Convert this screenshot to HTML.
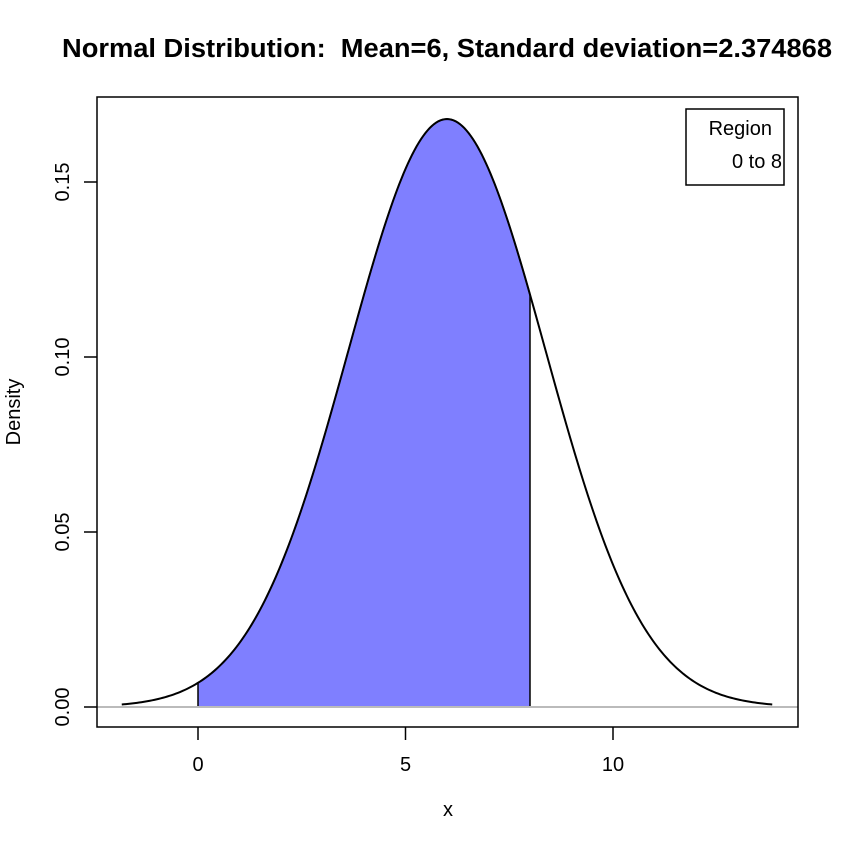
<!DOCTYPE html>
<html><head><meta charset="utf-8"><style>
html,body{margin:0;padding:0;background:#fff;}
svg{display:block;font-family:"Liberation Sans",Arial,sans-serif;}
</style></head><body>
<svg id="s" width="848" height="848" viewBox="0 0 848 848" xmlns="http://www.w3.org/2000/svg">
<rect width="848" height="848" fill="#fff"/>
<text x="447" y="57" text-anchor="middle" font-size="25.5" font-weight="bold" textLength="770" lengthAdjust="spacingAndGlyphs">Normal Distribution:&#160; Mean=6, Standard deviation=2.374868</text>
<path id="fill" fill="#7f7fff" stroke="#000" stroke-width="1.5" d=""/>
<line x1="97" y1="707" x2="798" y2="707" stroke="#bbb" stroke-width="2"/>
<path id="curve" fill="none" stroke="#000" stroke-width="2" d=""/>
<rect x="97" y="97" width="701" height="630" fill="none" stroke="#000" stroke-width="1.5"/>
<g stroke="#000" stroke-width="1.5">
<line x1="198" y1="727" x2="198" y2="740"/>
<line x1="405.5" y1="727" x2="405.5" y2="740"/>
<line x1="613" y1="727" x2="613" y2="740"/>
<line x1="97" y1="707" x2="84" y2="707"/>
<line x1="97" y1="532" x2="84" y2="532"/>
<line x1="97" y1="357" x2="84" y2="357"/>
<line x1="97" y1="182" x2="84" y2="182"/>
</g>
<g font-size="20" text-anchor="middle" fill="#000">
<text x="198" y="771">0</text>
<text x="405.5" y="771">5</text>
<text x="613" y="771">10</text>
<text x="448" y="816">x</text>
<text transform="translate(69,707) rotate(-90)">0.00</text>
<text transform="translate(69,532) rotate(-90)">0.05</text>
<text transform="translate(69,357) rotate(-90)">0.10</text>
<text transform="translate(69,182) rotate(-90)">0.15</text>
<text transform="translate(20,412) rotate(-90)">Density</text>
</g>
<rect x="686" y="109" width="98" height="76" fill="#fff" stroke="#000" stroke-width="1.5"/>
<text x="772" y="135" text-anchor="end" font-size="20">Region</text>
<text x="782" y="168" text-anchor="end" font-size="20">0 to 8</text>
<script>
(function(){
var m=6,s=2.374868;
function X(v){return 198+v*41.5;}
function Y(d){return 707-d*3500;}
function f(v){return Math.exp(-0.5*Math.pow((v-m)/s,2))/(s*Math.sqrt(2*Math.PI));}
var a=m-3.3*s,b=m+3.3*s,n=300,p="";
for(var i=0;i<=n;i++){var v=a+(b-a)*i/n;p+=(i?"L":"M")+X(v).toFixed(2)+","+Y(f(v)).toFixed(2);}
document.getElementById("curve").setAttribute("d",p);
var q="M"+X(0)+","+Y(0);
for(var i=0;i<=200;i++){var v=8*i/200;q+="L"+X(v).toFixed(2)+","+Y(f(v)).toFixed(2);}
q+="L"+X(8)+","+Y(0)+"Z";
document.getElementById("fill").setAttribute("d",q);
})();
</script>
</svg>
</body></html>
